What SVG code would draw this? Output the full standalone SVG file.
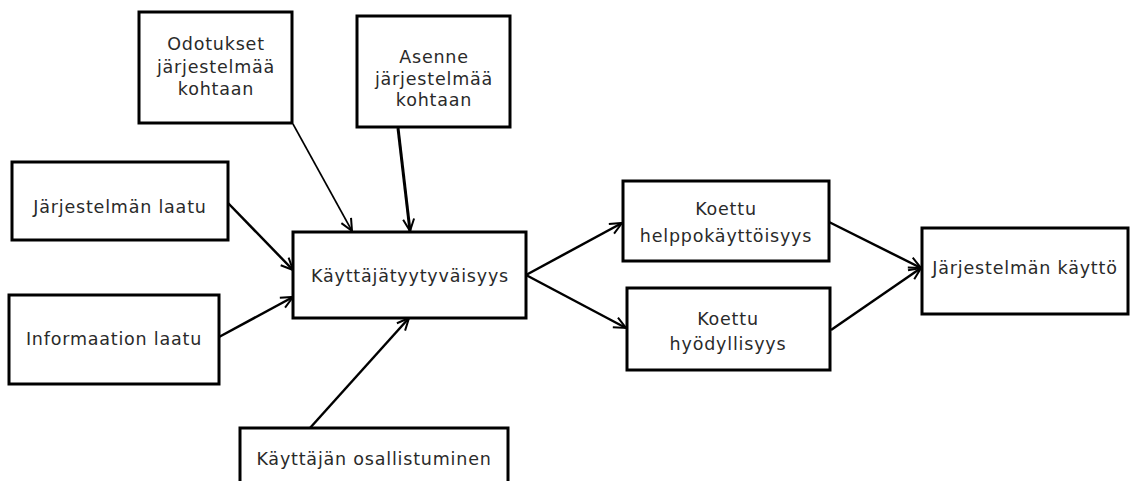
<svg xmlns="http://www.w3.org/2000/svg" width="1135" height="481" viewBox="0 0 1135 481">
  <defs>
    <style>
      .box { fill: #ffffff; stroke: #000000; stroke-width: 3; }
      .lbl { font-family: "DejaVu Sans", "Liberation Sans", sans-serif; font-size: 17.5px; letter-spacing: 0.8px; fill: #2a2a2a; text-anchor: middle; }
      .edge { fill: none; stroke: #000000; stroke-width: 2.5; }
    </style>
    <marker id="arr" viewBox="0 0 14 14" refX="13" refY="7" markerWidth="14" markerHeight="14" markerUnits="userSpaceOnUse" orient="auto">
      <path d="M1,1.5 L13,7 L1,12.5" fill="none" stroke="#000000" stroke-width="2"/>
    </marker>
  </defs>
  <rect width="1135" height="481" fill="#ffffff"/>

  <g id="connectors">
    <line class="edge" x1="293" y1="124" x2="352" y2="231" style="stroke-width:1.6" marker-end="url(#arr)"/>
    <line class="edge" x1="398" y1="128" x2="410" y2="231" style="stroke-width:3" marker-end="url(#arr)"/>
    <line class="edge" x1="228" y1="203" x2="293" y2="270" marker-end="url(#arr)"/>
    <line class="edge" x1="219" y1="337" x2="293" y2="297" marker-end="url(#arr)"/>
    <line class="edge" x1="310" y1="428" x2="409" y2="318" marker-end="url(#arr)"/>
    <line class="edge" x1="526" y1="275" x2="622" y2="223" marker-end="url(#arr)"/>
    <line class="edge" x1="526" y1="275" x2="626" y2="328" marker-end="url(#arr)"/>
    <line class="edge" x1="829" y1="222" x2="921" y2="268" marker-end="url(#arr)"/>
    <line class="edge" x1="831" y1="330" x2="921" y2="268" marker-end="url(#arr)"/>
  </g>

  <g id="odotukset">
    <rect class="box" x="139" y="12" width="153" height="111"/>
    <text class="lbl" x="216" y="50">Odotukset</text>
    <text class="lbl" x="216" y="73">järjestelmää</text>
    <text class="lbl" x="216" y="95">kohtaan</text>
  </g>
  <g id="asenne">
    <rect class="box" x="357" y="16" width="153" height="111"/>
    <text class="lbl" x="434" y="63">Asenne</text>
    <text class="lbl" x="434" y="85">järjestelmää</text>
    <text class="lbl" x="434" y="106">kohtaan</text>
  </g>
  <g id="jarjestelman-laatu">
    <rect class="box" x="12" y="162" width="216" height="78"/>
    <text class="lbl" x="120" y="213">Järjestelmän laatu</text>
  </g>
  <g id="informaation-laatu">
    <rect class="box" x="9" y="295" width="210" height="89"/>
    <text class="lbl" x="114" y="345">Informaation laatu</text>
  </g>
  <g id="kayttajatyytyvaisyys">
    <rect class="box" x="293" y="232" width="233" height="86"/>
    <text class="lbl" x="410" y="282">Käyttäjätyytyväisyys</text>
  </g>
  <g id="kayttajan-osallistuminen">
    <rect class="box" x="240" y="428" width="268" height="60"/>
    <text class="lbl" x="374" y="465">Käyttäjän osallistuminen</text>
  </g>
  <g id="koettu-helppokayttoisyys">
    <rect class="box" x="623" y="181" width="206" height="80"/>
    <text class="lbl" x="726" y="215">Koettu</text>
    <text class="lbl" x="726" y="242">helppokäyttöisyys</text>
  </g>
  <g id="koettu-hyodyllisyys">
    <rect class="box" x="627" y="288" width="203" height="82"/>
    <text class="lbl" x="728" y="325">Koettu</text>
    <text class="lbl" x="728" y="350">hyödyllisyys</text>
  </g>
  <g id="jarjestelman-kaytto">
    <rect class="box" x="922" y="228" width="206" height="86"/>
    <text class="lbl" x="1025" y="274">Järjestelmän käyttö</text>
  </g>
</svg>
